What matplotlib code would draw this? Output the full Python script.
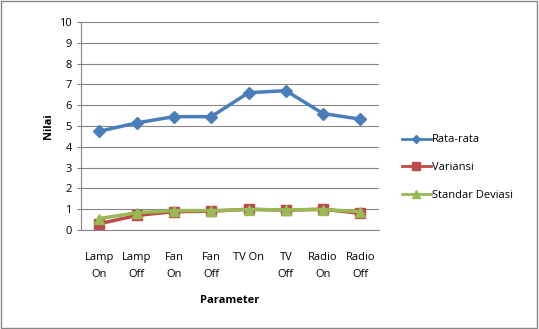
import numpy as np
from matplotlib import pyplot as plt

# data
kategori = ['Lamp\nOn', 'Lamp\nOff', 'Fan\nOn', 'Fan\nOff', 'TV On', 'TV\nOff', 'Radio\nOn', 'Radio\nOff']
rata_rata = [4.75, 5.15, 5.45, 5.45, 6.6, 6.7, 5.6, 5.33]
variansi = [0.3, 0.7, 0.88, 0.9, 1.0, 0.95, 1.0, 0.8]
standar_deviasi = [0.55, 0.83, 0.93, 0.93, 0.98, 0.97, 0.98, 0.88]

plt.rcParams['font.family'] = ['Open Sans', 'DejaVu Sans']

fig = plt.figure(figsize=(5.39, 3.29), dpi=100)
ax = fig.add_axes([0.150, 0.301, 0.553, 0.632])

x = np.arange(len(kategori))
ax.plot(x, rata_rata, color='#4a7ebb', lw=2.5, marker='D', ms=6, label='Rata-rata')
ax.plot(x, variansi, color='#be4b48', lw=2.5, marker='s', ms=7, label='Variansi')
ax.plot(x, standar_deviasi, color='#98b954', lw=2.5, marker='^', ms=7, label='Standar Deviasi')

ax.set_xlim(-0.5, len(kategori) - 0.5)
ax.set_ylim(0, 10)
ax.set_yticks(range(0, 11))
ax.set_xticks(x)
ax.set_xticklabels(kategori, fontsize=8, linespacing=1.75)
ax.tick_params(axis='y', labelsize=8, length=3, color='#868686')
ax.tick_params(axis='x', length=0, pad=16)
ax.grid(axis='y', color='#868686', lw=0.8)
ax.set_axisbelow(True)
for s in ['top', 'right']:
    ax.spines[s].set_visible(False)
for s in ['left', 'bottom']:
    ax.spines[s].set_color('#868686')

ax.set_ylabel('Nilai', fontsize=8, fontweight='bold')
ax.set_xlabel('Parameter', fontsize=8, fontweight='bold', labelpad=11)

leg = ax.legend(loc='center left', bbox_to_anchor=(1.077, 0.30), frameon=False, fontsize=8,
                handlelength=2.6, labelspacing=1.5, handletextpad=0.1,
                borderpad=0, borderaxespad=0, markerscale=0.75)
for h in leg.get_lines():
    h.set_linewidth(2)

# outer border like the original picture
fig.patches.append(plt.Rectangle((0.002, 0.003), 0.994, 0.994, transform=fig.transFigure,
                                 fill=False, edgecolor='#868686', lw=1))

fig.savefig('out.png', dpi=100)
